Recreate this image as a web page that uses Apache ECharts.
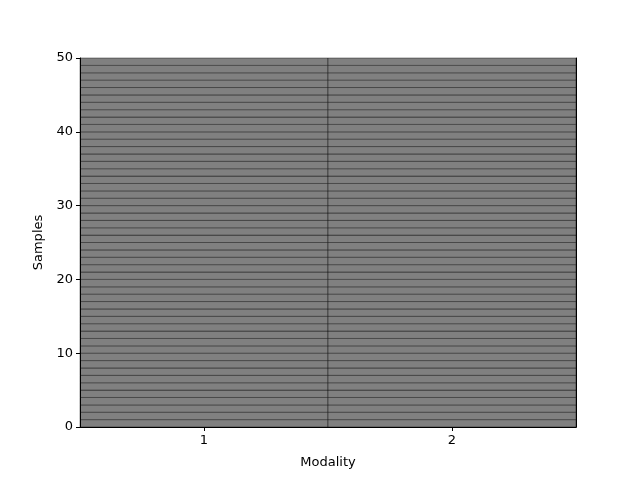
<!DOCTYPE html>
<html>
<head>
<meta charset="utf-8">
<script src="https://cdn.jsdelivr.net/npm/echarts@6/dist/echarts.min.js"></script>
<style>html,body{margin:0;padding:0;background:#fff}#c{width:640px;height:480px}</style>
</head>
<body>
<div id="c"></div>
<script>
var modalities = ['1', '2'];
var yTicks = [0, 10, 20, 30, 40, 50];
var modality1 = [1,1,1,1,1,1,1,1,1,1,1,1,1,1,1,1,1,1,1,1,1,1,1,1,1,1,1,1,1,1,1,1,1,1,1,1,1,1,1,1,1,1,1,1,1,1,1,1,1,1];
var modality2 = [1,1,1,1,1,1,1,1,1,1,1,1,1,1,1,1,1,1,1,1,1,1,1,1,1,1,1,1,1,1,1,1,1,1,1,1,1,1,1,1,1,1,1,1,1,1,1,1,1,1];

var cols = [modality1, modality2];
var data = [];
cols.forEach(function (col, xi) {
  col.forEach(function (v, j) { data.push([xi, j, v]); });
});

var chart = echarts.init(document.getElementById('c'), null, {renderer: 'canvas'});
var font = 'DejaVu Sans';
chart.setOption({
  animation: false,
  grid: {left: 80, right: 64, top: 58, bottom: 53},
  xAxis: [{
    type: 'category', data: modalities, boundaryGap: true,
    name: 'Modality', nameLocation: 'middle', nameGap: 29,
    nameTextStyle: {color: '#000', fontSize: 13, fontFamily: font},
    axisLine: {show: true, lineStyle: {color: '#000', width: 1}},
    axisTick: {show: true, alignWithLabel: true, length: 4, lineStyle: {color: '#000'}},
    axisLabel: {color: '#000', fontSize: 13, fontFamily: font, margin: 7},
    splitLine: {show: false}, z: 10
  }, {
    type: 'category', data: modalities, position: 'top',
    axisLine: {show: true, lineStyle: {color: '#000', width: 1}},
    axisTick: {show: false}, axisLabel: {show: false}, splitLine: {show: false}, z: 10
  }],
  yAxis: [{
    type: 'value', min: 0, max: 50, interval: 10,
    name: 'Samples', nameLocation: 'middle', nameGap: 34,
    nameTextStyle: {color: '#000', fontSize: 13, fontFamily: font},
    axisLine: {show: true, lineStyle: {color: '#000', width: 1}},
    axisTick: {show: true, length: 4, lineStyle: {color: '#000'}},
    axisLabel: {color: '#000', fontSize: 13, fontFamily: font, margin: 7},
    splitLine: {show: false}, z: 10
  }, {
    type: 'value', min: 0, max: 50, interval: 10, position: 'right',
    axisLine: {show: true, lineStyle: {color: '#000', width: 1}},
    axisTick: {show: false}, axisLabel: {show: false}, splitLine: {show: false}, z: 10
  }],
  series: [{
    type: 'custom',
    xAxisIndex: 0, yAxisIndex: 0,
    data: data,
    renderItem: function (params, api) {
      var xi = api.value(0), j = api.value(1);
      var bw = api.size([1, 0])[0];
      var p0 = api.coord([xi, j]);
      var p1 = api.coord([xi, j + 1]);
      return {
        type: 'rect',
        shape: {x: p0[0] - bw / 2, y: p1[1], width: bw, height: p0[1] - p1[1]},
        style: {fill: '#808080', stroke: 'rgba(0,0,0,0.4)', lineWidth: 1}
      };
    }
  }]
});
</script>
</body>
</html>
